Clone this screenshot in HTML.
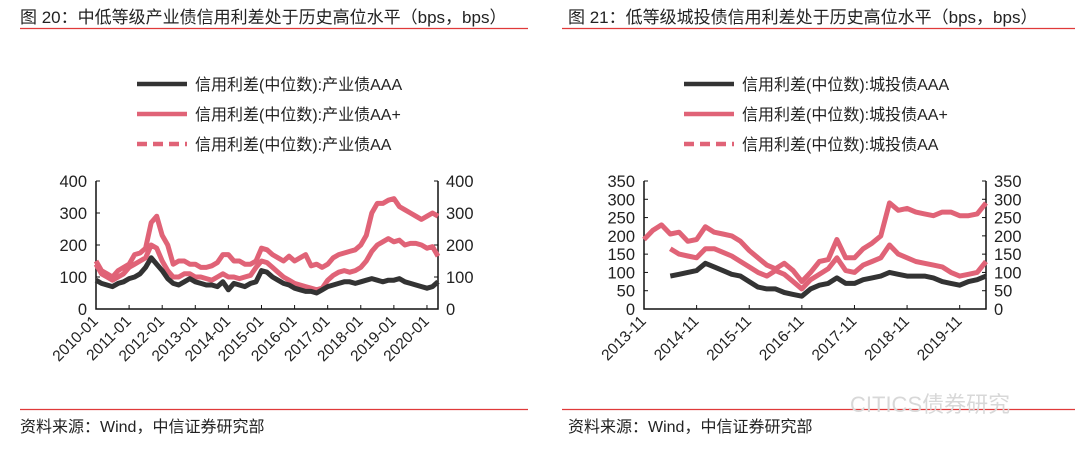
<!DOCTYPE html>
<html><head><meta charset="utf-8">
<style>
body{margin:0;background:#fff;width:1080px;height:452px;overflow:hidden;font-family:"Liberation Sans","Noto Sans CJK SC",sans-serif;}
svg text{font-family:"Liberation Sans","Noto Sans CJK SC",sans-serif;}
</style></head>
<body>
<svg id="root" width="1080" height="452">
<g>
<text x="20" y="23" font-size="17" fill="#222">图 20：中低等级产业债信用利差处于历史高位水平（bps，bps）</text>
<line x1="20" y1="28.5" x2="528" y2="28.5" stroke="#e03a3a" stroke-width="1.2"/>
<line x1="20" y1="409.5" x2="528" y2="409.5" stroke="#e03a3a" stroke-width="1.2"/>
<text x="20" y="432" font-size="16" fill="#222">资料来源：Wind，中信证券研究部</text>
</g>
<g>
<text x="568" y="23" font-size="17" fill="#222">图 21：低等级城投债信用利差处于历史高位水平（bps，bps）</text>
<line x1="562" y1="28.5" x2="1075" y2="28.5" stroke="#e03a3a" stroke-width="1.2"/>
<line x1="562" y1="409.5" x2="1075" y2="409.5" stroke="#e03a3a" stroke-width="1.2"/>
<text x="568" y="432" font-size="16" fill="#222">资料来源：Wind，中信证券研究部</text>
<text x="850" y="412" font-size="22" fill="#d8d8d8">CITICS债券研究</text>
</g>
</svg>
<script>
// ---- left chart data (bimonthly from 2010-01) ----
const leftTicks = ["2010-01","2011-01","2012-01","2013-01","2014-01","2015-01","2016-01","2017-01","2018-01","2019-01","2020-01"];
const leftYTicks = [0,100,200,300,400];
const leftAAA = [90,80,75,70,80,85, 95,100,110,130,160,140, 120,95,80,75,85,95, 85,80,75,75,70,85, 60,80,75,70,80,85, 120,115,100,90,80,75, 65,60,55,55,50,60, 70,75,80,85,85,80, 85,90,95,90,85,90, 90,95,85,80,75,70, 65,70,85];
const leftAAplus = [140,110,100,90,100,110, 130,140,150,160,200,190, 150,120,100,100,110,110, 100,100,95,90,100,110, 100,100,95,100,105,130, 150,145,130,115,100,90, 80,75,70,65,60,65, 90,105,115,120,115,120, 130,150,180,200,210,220, 210,215,200,205,205,200, 190,195,165];
const leftAA = [150,120,110,100,120,130, 140,170,175,190,270,290, 230,200,140,150,150,140, 140,130,130,135,145,170, 170,150,150,140,140,150, 190,185,170,160,150,165, 150,160,170,135,140,130, 140,160,170,175,180,185, 200,230,300,330,330,340, 345,320,310,300,290,280, 290,300,290];
const leftLegend = ["信用利差(中位数):产业债AAA","信用利差(中位数):产业债AA+","信用利差(中位数):产业债AA"];
// ---- right chart data (bimonthly from 2013-11) ----
const rightTicks = ["2013-11","2014-11","2015-11","2016-11","2017-11","2018-11","2019-11"];
const rightYTicks = [0,50,100,150,200,250,300,350];
const rightAAA = [null,null,null,90,95,100,105,125,115,105,95,90,75,60,55,55,45,40,35,55,65,70,85,70,70,80,85,90,100,95,90,90,90,85,75,70,65,75,80,90];
const rightAAplus = [null,null,null,165,150,145,140,165,165,155,145,130,115,100,90,105,95,75,55,80,95,110,140,105,100,120,130,140,175,150,140,130,125,120,115,100,90,95,100,130];
const rightAA = [190,215,230,205,210,185,190,225,210,205,200,185,160,140,120,110,125,105,75,100,130,135,190,140,140,165,180,200,290,270,275,265,260,255,265,265,255,255,260,290];
const rightLegend = ["信用利差(中位数):城投债AAA","信用利差(中位数):城投债AA+","信用利差(中位数):城投债AA"];

const NS="http://www.w3.org/2000/svg";
const root=document.getElementById('root');
function mk(tag,attrs,parent){const e=document.createElementNS(NS,tag);for(const k in attrs)e.setAttribute(k,attrs[k]);(parent||root).appendChild(e);return e;}

function drawChart(cfg){
  const g=mk('g',{});
  
  
  const {x0,x1,yb,yt,ymax,yTicks,ticks,tickStep,nPts,series,legend,legX}=cfg;
  const xs=i=>x0+(x1-x0)*i/(nPts-1);
  const ys=v=>yb-(yb-yt)*v/ymax;
  const colors=["#333333","#e06377","#e06377"];
  legend.forEach((t,k)=>{
    const ly=84+k*30;
    const l=mk('line',{x1:legX,y1:ly,x2:legX+50,y2:ly,stroke:colors[k],'stroke-width':4.5,'stroke-dasharray':k==2?'10,6':'none'},g);
    
    
    const tx=mk('text',{x:legX+58,y:ly+6,'font-size':16,fill:'#222'},g);
    tx.textContent=t;
    
    
  });
  const ax=mk('path',{d:`M${x0},${yt}V${yb}H${x1}V${yt}`,stroke:'#111','stroke-width':1.5,fill:'none'},g);
  
  
  yTicks.forEach(v=>{
    const y=ys(v);
    mk('line',{x1:x0,y1:y,x2:x0+4,y2:y,stroke:'#111'},g);
    mk('line',{x1:x1,y1:y,x2:x1-4,y2:y,stroke:'#111'},g);
    const a=mk('text',{x:x0-9,y:y+6,'font-size':16.5,fill:'#222','text-anchor':'end'},g);a.textContent=v;
    
    
    const b=mk('text',{x:x1+8,y:y+6,'font-size':16.5,fill:'#222'},g);b.textContent=v;
    
    
  });
  ticks.forEach((t,k)=>{
    const x=xs(k*tickStep);
    mk('line',{x1:x,y1:yb,x2:x,y2:yb-4,stroke:'#111'},g);
    const tx=mk('text',{x:x+3,y:yb+13,'font-size':15.5,fill:'#222','text-anchor':'end',transform:`rotate(-45 ${x+3} ${yb+13})`},g);
    tx.textContent=t;
    
    
  });
  [2,1,0].forEach(k=>{
    const arr=series[k];let d='';let pen=false;
    arr.forEach((v,i)=>{if(v==null){pen=false;return;}d+=(pen?'L':'M')+xs(i).toFixed(1)+','+ys(v).toFixed(1);pen=true;});
    const p=mk('path',{d,stroke:colors[k],'stroke-width':5,fill:'none','stroke-linejoin':'round'},g);
    
    
  });
}
drawChart({name:'left-chart',x0:96,x1:438,yb:309,yt:181,ymax:400,yTicks:leftYTicks,ticks:leftTicks,tickStep:6,nPts:leftAAA.length,series:[leftAAA,leftAAplus,leftAA],legend:leftLegend,legX:137});
drawChart({name:'right-chart',x0:644,x1:986,yb:309,yt:181,ymax:350,yTicks:rightYTicks,ticks:rightTicks,tickStep:6,nPts:rightAAA.length,series:[rightAAA,rightAAplus,rightAA],legend:rightLegend,legX:684});
</script>
</body></html>
